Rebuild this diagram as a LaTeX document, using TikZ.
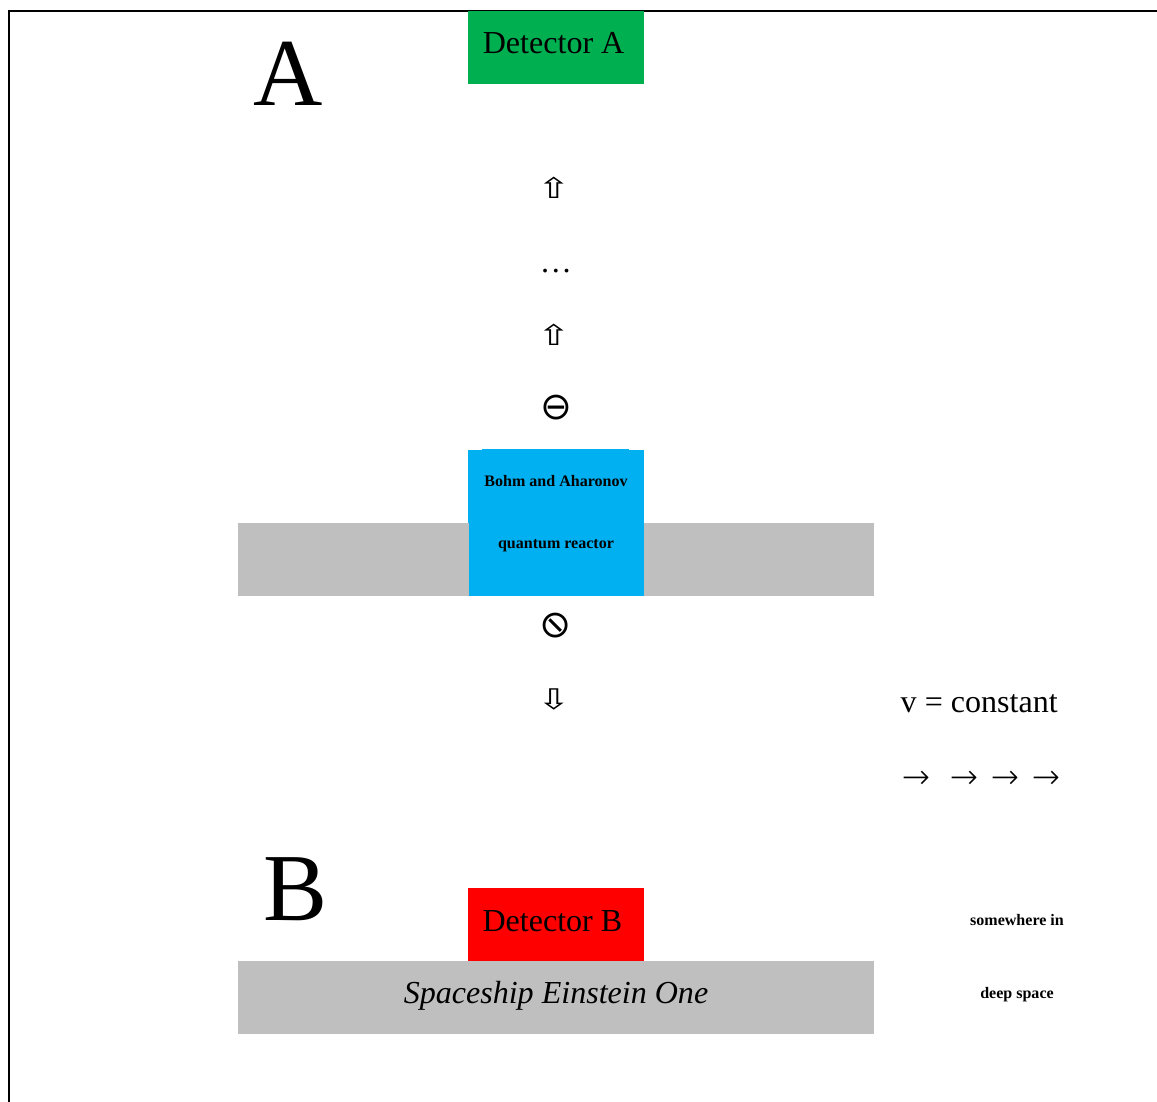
\documentclass[tikz,border=0pt]{standalone}
\usepackage{fontspec}
\setmainfont{Liberation Serif}
\newfontfamily\symfont{DejaVu Sans}
\newfontfamily\thinfont{DejaVu Sans ExtraLight}
\tikzset{
  label/.style={inner sep=0pt, anchor=base, font=\fontsize{22.8pt}{26pt}\selectfont},
  biglabel/.style={inner sep=0pt, anchor=base, font=\fontsize{68.3pt}{72pt}\selectfont},
  smalllabel/.style={inner sep=0pt, anchor=base, font=\fontsize{11.4pt}{13pt}\selectfont\bfseries},
  symlabel/.style={inner sep=0pt, font=\fontsize{27pt}{30pt}\symfont},
  arrowlabel/.style={inner sep=0pt, font=\fontsize{24pt}{26pt}\thinfont}
}
\begin{document}
\begin{tikzpicture}
  \useasboundingbox (0cm,0cm) rectangle (28.925cm,-27.55cm);
  % frame
  \draw[line width=1.4pt] (0.225cm,-27.55cm) -- (0.225cm,-0.275cm) -- (28.925cm,-0.275cm);
  % ship plates
  \filldraw[fill=black!25, draw=none] (5.95cm,-13.075cm) rectangle (21.85cm,-14.9cm);
  \filldraw[fill=black!25, draw=none] (5.95cm,-24.025cm) rectangle (21.85cm,-25.85cm);
  % boxes
  \filldraw[fill={rgb,255:red,0;green,176;blue,80}, draw=none] (11.7cm,-0.275cm) rectangle (16.1cm,-2.1cm);
  \filldraw[fill={rgb,255:red,0;green,176;blue,240}, draw=none] (12.05cm,-11.225cm) rectangle (15.725cm,-11.3cm);
  \filldraw[fill={rgb,255:red,0;green,176;blue,240}, draw=none] (11.7cm,-11.25cm) rectangle (16.1cm,-13.075cm);
  \filldraw[fill={rgb,255:red,0;green,176;blue,240}, draw=none] (11.725cm,-13.075cm) rectangle (16.1cm,-14.9cm);
  \filldraw[fill=red, draw=none] (11.7cm,-22.2cm) rectangle (16.1cm,-24.025cm);
  % texts
  \node[biglabel] (markA) at (7.2cm,-2.65cm) {A};
  \node[biglabel] (markB) at (7.4cm,-23cm) {B};
  \node[label] (detA) at (13.84cm,-1.35cm) {Detector A};
  \node[label] (detB) at (13.81cm,-23.275cm) {Detector B};
  \node[smalllabel] (reactorA) at (13.9cm,-12.15cm) {Bohm and Aharonov};
  \node[smalllabel] (reactorB) at (13.9cm,-13.7cm) {quantum reactor};
  \node[label, font=\fontsize{22.8pt}{26pt}\selectfont\itshape] (ship) at (13.9cm,-25.075cm) {Spaceship Einstein One};
  \node[label] (speed) at (24.48cm,-17.8cm) {v = constant};
  \node[smalllabel] (spaceA) at (25.425cm,-23.125cm) {somewhere in};
  \node[smalllabel] (spaceB) at (25.425cm,-24.95cm) {deep space};
  % particle symbols
  \node[symlabel] (upA) at (13.85cm,-4.7cm) {\scalebox{1.05}[0.75]{⇧}};
  \node[label] (dots) at (13.9cm,-6.825cm) {…};
  \node[symlabel] (upB) at (13.85cm,-8.375cm) {\scalebox{1.05}[0.75]{⇧}};
  \node[symlabel] (minus) at (13.9cm,-10.2cm) {⊖};
  \node[symlabel] (slash) at (13.9cm,-15.65cm) {\scalebox{-1}[1]{⊘}};
  \node[symlabel] (down) at (13.85cm,-17.475cm) {\scalebox{1.05}[0.75]{⇩}};
  % velocity arrows
  \node[arrowlabel] (velA) at (22.9cm,-19.5cm) {→};
  \node[arrowlabel] (velB) at (24.1cm,-19.5cm) {→};
  \node[arrowlabel] (velC) at (25.125cm,-19.5cm) {→};
  \node[arrowlabel] (velD) at (26.15cm,-19.5cm) {→};
\end{tikzpicture}
\end{document}
